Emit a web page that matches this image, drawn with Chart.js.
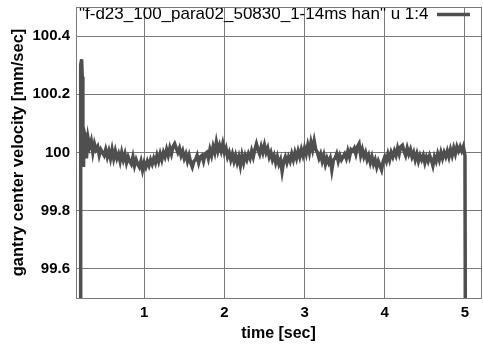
<!DOCTYPE html>
<html>
<head>
<meta charset="utf-8">
<script src="https://cdn.jsdelivr.net/npm/chart.js@4/dist/chart.umd.min.js"></script>
<style>
  html, body { margin: 0; padding: 0; background: #ffffff; }
  #wrap { width: 483px; height: 347px; }
</style>
</head>
<body>
<div id="wrap"><canvas id="c" width="483" height="347"></canvas></div>
<script>
// ---- data ----
const seriesLabel = '"f-d23_100_para02_50830_1-14ms han" u 1:4';
const xTitle = 'time [sec]';
const yTitle = 'gantry center velocity [mm/sec]';
const xTickValues = [1, 2, 3, 4, 5];
const xTickLabels = ['1', '2', '3', '4', '5'];
const yTickValues = [99.6, 99.8, 100.0, 100.2, 100.4];
const yTickLabels = ['99.6', '99.8', '100', '100.2', '100.4'];

const timeSec = [
  0.200, 0.205, 0.212, 0.220, 0.228, 0.236, 0.244, 0.252,
  0.26, 0.28, 0.30, 0.32, 0.34, 0.36, 0.38, 0.40, 0.42, 0.44, 0.46, 0.48,
  0.50, 0.52, 0.54, 0.56, 0.58, 0.60, 0.62, 0.64, 0.66, 0.68,
  0.70, 0.72, 0.74, 0.76, 0.78, 0.80, 0.82, 0.84, 0.86, 0.88,
  0.90, 0.92, 0.94, 0.96, 0.98, 1.00, 1.02, 1.04, 1.06, 1.08,
  1.10, 1.12, 1.14, 1.16, 1.18, 1.20, 1.22, 1.24, 1.26, 1.28,
  1.30, 1.32, 1.34, 1.36, 1.38, 1.40, 1.42, 1.44, 1.46, 1.48,
  1.50, 1.52, 1.54, 1.56, 1.58, 1.60, 1.62, 1.64, 1.66, 1.68,
  1.70, 1.72, 1.74, 1.76, 1.78, 1.80, 1.82, 1.84, 1.86, 1.88,
  1.90, 1.92, 1.94, 1.96, 1.98, 2.00, 2.02, 2.04, 2.06, 2.08,
  2.10, 2.12, 2.14, 2.16, 2.18, 2.20, 2.22, 2.24, 2.26, 2.28,
  2.30, 2.32, 2.34, 2.36, 2.38, 2.40, 2.42, 2.44, 2.46, 2.48,
  2.50, 2.52, 2.54, 2.56, 2.58, 2.60, 2.62, 2.64, 2.66, 2.68,
  2.70, 2.72, 2.74, 2.76, 2.78, 2.80, 2.82, 2.84, 2.86, 2.88,
  2.90, 2.92, 2.94, 2.96, 2.98, 3.00, 3.02, 3.04, 3.06, 3.08,
  3.10, 3.12, 3.14, 3.16, 3.18, 3.20, 3.22, 3.24, 3.26, 3.28,
  3.30, 3.32, 3.34, 3.36, 3.38, 3.40, 3.42, 3.44, 3.46, 3.48,
  3.50, 3.52, 3.54, 3.56, 3.58, 3.60, 3.62, 3.64, 3.66, 3.68,
  3.70, 3.72, 3.74, 3.76, 3.78, 3.80, 3.82, 3.84, 3.86, 3.88,
  3.90, 3.92, 3.94, 3.96, 3.98, 4.00, 4.02, 4.04, 4.06, 4.08,
  4.10, 4.12, 4.14, 4.16, 4.18, 4.20, 4.22, 4.24, 4.26, 4.28,
  4.30, 4.32, 4.34, 4.36, 4.38, 4.40, 4.42, 4.44, 4.46, 4.48,
  4.50, 4.52, 4.54, 4.56, 4.58, 4.60, 4.62, 4.64, 4.66, 4.68,
  4.70, 4.72, 4.74, 4.76, 4.78, 4.80, 4.82, 4.84, 4.86, 4.88,
  4.90, 4.92, 4.94, 4.96, 4.98, 5.00, 5.005
];

const velocity = [
  99.40, 100.00, 100.30, 100.32, 100.26, 100.10, 99.95, 100.07,
  100.06, 99.98, 100.05, 100.02, 100.04, 100.00, 100.03, 100.01, 100.02, 99.99, 100.01, 100.00,
  99.99, 100.01, 99.985, 100.005, 99.98, 100.01, 99.98, 100.005, 99.98, 99.995,
  99.97, 100.00, 99.975, 99.995, 99.965, 99.985, 99.97, 99.96, 99.985, 99.955,
  99.975, 99.96, 99.95, 99.97, 99.94, 99.965, 99.95, 99.97, 99.955, 99.975,
  99.96, 99.98, 99.965, 99.99, 99.97, 99.995, 99.975, 100.00, 99.985, 100.01,
  99.99, 100.015, 99.995, 100.02, 100.03, 100.015, 100.00, 100.015, 99.99, 100.005,
  99.98, 99.995, 99.97, 99.99, 99.965, 99.95, 99.97, 99.975, 99.99, 99.965,
  99.985, 99.99, 99.97, 99.995, 100.00, 99.98, 100.01, 99.99, 100.02, 100.00,
  100.035, 100.005, 100.025, 100.005, 100.03, 100.00, 100.015, 99.985, 100.00, 99.975,
  99.995, 99.97, 99.99, 99.965, 99.985, 99.955, 99.99, 99.965, 99.99, 99.975,
  99.995, 99.98, 100.005, 99.985, 100.01, 100.03, 100.01, 99.995, 100.02, 100.00,
  100.025, 100.00, 100.015, 99.985, 100.00, 99.975, 99.99, 99.965, 99.985, 99.96,
  99.975, 99.935, 99.97, 99.985, 99.965, 99.985, 99.97, 99.995, 99.975, 100.00,
  99.98, 100.005, 99.985, 100.01, 99.99, 100.015, 99.995, 100.025, 100.00, 100.035,
  100.01, 100.04, 100.01, 100.00, 99.98, 99.995, 99.97, 99.99, 99.96, 99.98,
  99.965, 99.98, 99.94, 99.975, 99.98, 99.995, 99.97, 99.99, 99.975, 99.985,
  99.995, 99.98, 100.005, 99.985, 100.01, 100.005, 100.015, 99.995, 100.02, 100.03,
  99.99, 100.01, 99.985, 100.00, 99.975, 99.99, 99.965, 99.985, 99.96, 99.975,
  99.95, 99.97, 99.955, 99.94, 99.97, 99.985, 99.97, 99.995, 99.975, 100.00,
  99.985, 100.005, 99.99, 100.015, 99.995, 100.02, 100.025, 100.005, 99.99, 100.015,
  99.995, 100.01, 99.985, 100.00, 99.975, 99.995, 99.97, 99.99, 99.975, 99.99,
  99.965, 99.985, 99.97, 99.99, 99.975, 99.955, 99.985, 99.97, 99.995, 99.975,
  100.00, 99.98, 100.00, 99.985, 100.005, 99.985, 100.01, 99.99, 100.015, 99.995,
  100.02, 100.005, 100.02, 100.005, 100.02, 99.99, 99.40
];

// ---- build chart ----
const points = timeSec.map((t, i) => ({ x: t, y: velocity[i] }));
const FONT = "'Liberation Sans', Arial, Helvetica, sans-serif";
const LINE = '#4f4f4f';
const GRID = '#7a7a7a';

// places the key inside the top of the frame, like gnuplot's "key top right"
const keyPlacer = {
  id: 'keyPlacer',
  afterLayout(chart) {
    const lg = chart.legend;
    const ca = chart.chartArea;
    if (!lg || !ca) return;
    lg.top = ca.top - 3;
    lg.left = ca.left;
    lg.width = ca.right - ca.left - 9;
    lg.right = lg.left + lg.width;
  }
};

new Chart(document.getElementById('c'), {
  type: 'line',
  data: {
    datasets: [{
      label: seriesLabel,
      data: points,
      borderColor: LINE,
      backgroundColor: LINE,
      borderWidth: 3.5,
      pointRadius: 0,
      tension: 0,
      fill: false
    }]
  },
  plugins: [keyPlacer],
  options: {
    responsive: false,
    animation: false,
    events: [],
    layout: { padding: { top: 7, right: 2, left: 0, bottom: 0 } },
    plugins: {
      tooltip: { enabled: false },
      legend: {
        position: 'chartArea',
        align: 'start',
        rtl: true,
        labels: {
          font: { family: FONT, size: 17 },
          color: '#000000',
          usePointStyle: true,
          pointStyle: 'line',
          pointStyleWidth: 33,
          boxHeight: 10,
          padding: 2
        }
      }
    },
    scales: {
      x: {
        type: 'linear',
        min: 0.15,
        max: 5.2,
        afterBuildTicks: (axis) => { axis.ticks = xTickValues.map(v => ({ value: v })); },
        afterFit: (axis) => { axis.height = 49; axis.paddingLeft = 0; axis.paddingRight = 0; },
        border: { display: true, color: GRID, width: 1 },
        grid: { color: GRID, lineWidth: 1, drawTicks: false },
        ticks: {
          padding: 6,
          color: '#000000',
          font: { family: FONT, size: 15, weight: 'bold' },
          maxRotation: 0,
          callback: (v) => { const i = xTickValues.indexOf(v); return i >= 0 ? xTickLabels[i] : ''; }
        },
        title: {
          display: true,
          text: xTitle,
          color: '#000000',
          font: { family: FONT, size: 16, weight: 'bold' },
          padding: { top: 0, bottom: 4 }
        }
      },
      x2: {
        type: 'linear',
        position: 'top',
        min: 0.15,
        max: 5.2,
        border: { display: true, color: GRID, width: 1 },
        grid: { display: false, drawTicks: false },
        ticks: { display: false },
        afterFit: (axis) => { axis.height = 0; axis.paddingLeft = 0; axis.paddingRight = 0; }
      },
      y: {
        type: 'linear',
        min: 99.5,
        max: 100.5,
        afterBuildTicks: (axis) => { axis.ticks = yTickValues.map(v => ({ value: v })); },
        afterFit: (axis) => { axis.width = 76; axis.paddingTop = 0; axis.paddingBottom = 0; },
        border: { display: true, color: GRID, width: 1 },
        grid: { color: GRID, lineWidth: 1, drawTicks: false },
        ticks: {
          padding: 6,
          color: '#000000',
          font: { family: FONT, size: 15, weight: 'bold' },
          callback: (v) => { const i = yTickValues.findIndex(t => Math.abs(t - v) < 1e-6); return i >= 0 ? yTickLabels[i] : ''; }
        },
        title: {
          display: true,
          text: yTitle,
          color: '#000000',
          font: { family: FONT, size: 16.5, weight: 'bold' },
          padding: { top: 9, bottom: 0 }
        }
      },
      y2: {
        type: 'linear',
        position: 'right',
        min: 99.5,
        max: 100.5,
        border: { display: true, color: GRID, width: 1 },
        grid: { display: false, drawTicks: false },
        ticks: { display: false },
        afterFit: (axis) => { axis.width = 0; axis.paddingTop = 0; axis.paddingBottom = 0; }
      }
    }
  }
});
</script>
</body>
</html>
